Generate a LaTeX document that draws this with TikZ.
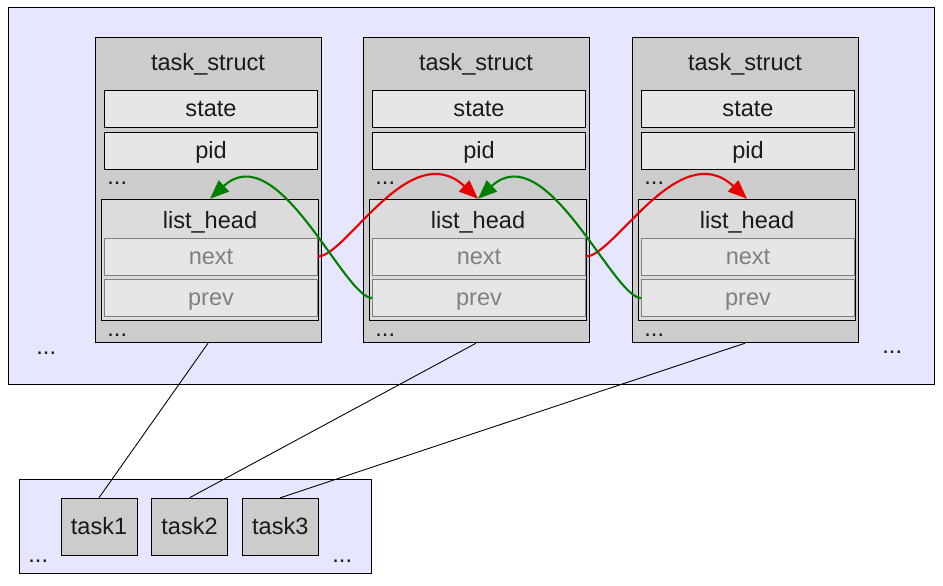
\documentclass[tikz,border=0pt]{standalone}
\usepackage{fontspec}
\setmainfont{Liberation Sans}
\usetikzlibrary{arrows.meta}

\definecolor{bgblue}{RGB}{230,230,255}
\definecolor{boxgray}{RGB}{204,204,204}
\definecolor{fieldgray}{RGB}{230,230,230}
\definecolor{headgray}{RGB}{220,220,220}
\definecolor{nextred}{RGB}{232,0,0}
\definecolor{prevgreen}{RGB}{0,128,0}
\definecolor{inktext}{RGB}{26,26,26}

\tikzset{
  structbox/.style={draw, fill=boxgray, minimum width=4.52cm, minimum height=6.1cm, inner sep=0pt},
  field/.style={draw, fill=fieldgray, minimum width=4.26cm, minimum height=0.74cm, inner sep=0pt},
  headbox/.style={draw, fill=headgray, minimum width=4.34cm, minimum height=2.42cm, inner sep=0pt},
  ptrfield/.style={field, draw=gray, text=gray},
  taskbox/.style={draw, fill=boxgray, minimum width=1.52cm, minimum height=1.14cm, inner sep=0pt},
  dots/.style={anchor=base west, inner sep=0pt},
  nextptr/.style={draw=nextred, line width=1.2pt, -{Triangle[length=0.38cm,width=0.3cm]}},
  prevptr/.style={draw=prevgreen, line width=1.2pt, -{Triangle[length=0.38cm,width=0.3cm]}}
}

\begin{document}
\begin{tikzpicture}[x=0.02cm, y=-0.02cm, line width=0.5pt, text=inktext,
  font=\fontsize{13.4}{16}\selectfont,
  every node/.style={text height=13pt, text depth=4pt}]
\useasboundingbox (0,0) rectangle (943,585);
\draw[fill=bgblue] (8,7) rectangle (934,384);
\draw[fill=bgblue] (19.5,479.5) rectangle (371,573.5);

%task_struct 1
\node[structbox] (ts1) at (208,190.3) {};
\node (tn1) at (208,63) {task\_struct};
\node[field] (st1) at (211,109) {state};
\node[field] (pid1) at (211,150.5) {pid};
\node[dots] (d1a) at (107,184) {...};
\node[headbox] (lh1) at (210,259.7) {};
\node (ln1) at (210,220.5) {list\_head};
\node[ptrfield] (nx1) at (211,256.5) {next};
\node[ptrfield] (pv1) at (211,298) {prev};
\node[dots] (d1b) at (107,336) {...};

%task_struct 2
\node[structbox] (ts2) at (476,190.3) {};
\node (tn2) at (476,63) {task\_struct};
\node[field] (st2) at (479,109) {state};
\node[field] (pid2) at (479,150.5) {pid};
\node[dots] (d2a) at (375,184) {...};
\node[headbox] (lh2) at (478,259.7) {};
\node (ln2) at (478,220.5) {list\_head};
\node[ptrfield] (nx2) at (479,256.5) {next};
\node[ptrfield] (pv2) at (479,298) {prev};
\node[dots] (d2b) at (375,336) {...};

%task_struct 3
\node[structbox] (ts3) at (745,190.3) {};
\node (tn3) at (745,63) {task\_struct};
\node[field] (st3) at (748,109) {state};
\node[field] (pid3) at (748,150.5) {pid};
\node[dots] (d3a) at (644,184) {...};
\node[headbox] (lh3) at (747,259.7) {};
\node (ln3) at (747,220.5) {list\_head};
\node[ptrfield] (nx3) at (748,256.5) {next};
\node[ptrfield] (pv3) at (748,298) {prev};
\node[dots] (d3b) at (644,336) {...};

\node[dots] (dl) at (36,354) {...};
\node[dots] (dr) at (882,353) {...};

%next / prev pointers
\draw[nextptr] (nx1.east) .. controls +(28,0) and +(-68,-63) .. (lh2.north);
\draw[nextptr] (nx2.east) .. controls +(28,0) and +(-68,-63) .. (lh3.north);
\draw[prevptr] (pv2.west) .. controls +(-28,0) and +(68,-63) .. (lh1.north);
\draw[prevptr] (pv3.west) .. controls +(-28,0) and +(68,-63) .. (lh2.north);

%task list
\node[taskbox] (task1) at (99,526.7) {task1};
\node[taskbox] (task2) at (189.5,526.7) {task2};
\node[taskbox] (task3) at (280.3,526.7) {task3};
\node[dots] (bl) at (28,562.5) {...};
\node[dots] (br) at (332,562.5) {...};

\draw (ts1.south) -- (task1.north);
\draw (ts2.south) -- (task2.north);
\draw (ts3.south) -- (task3.north);
\end{tikzpicture}
\end{document}
